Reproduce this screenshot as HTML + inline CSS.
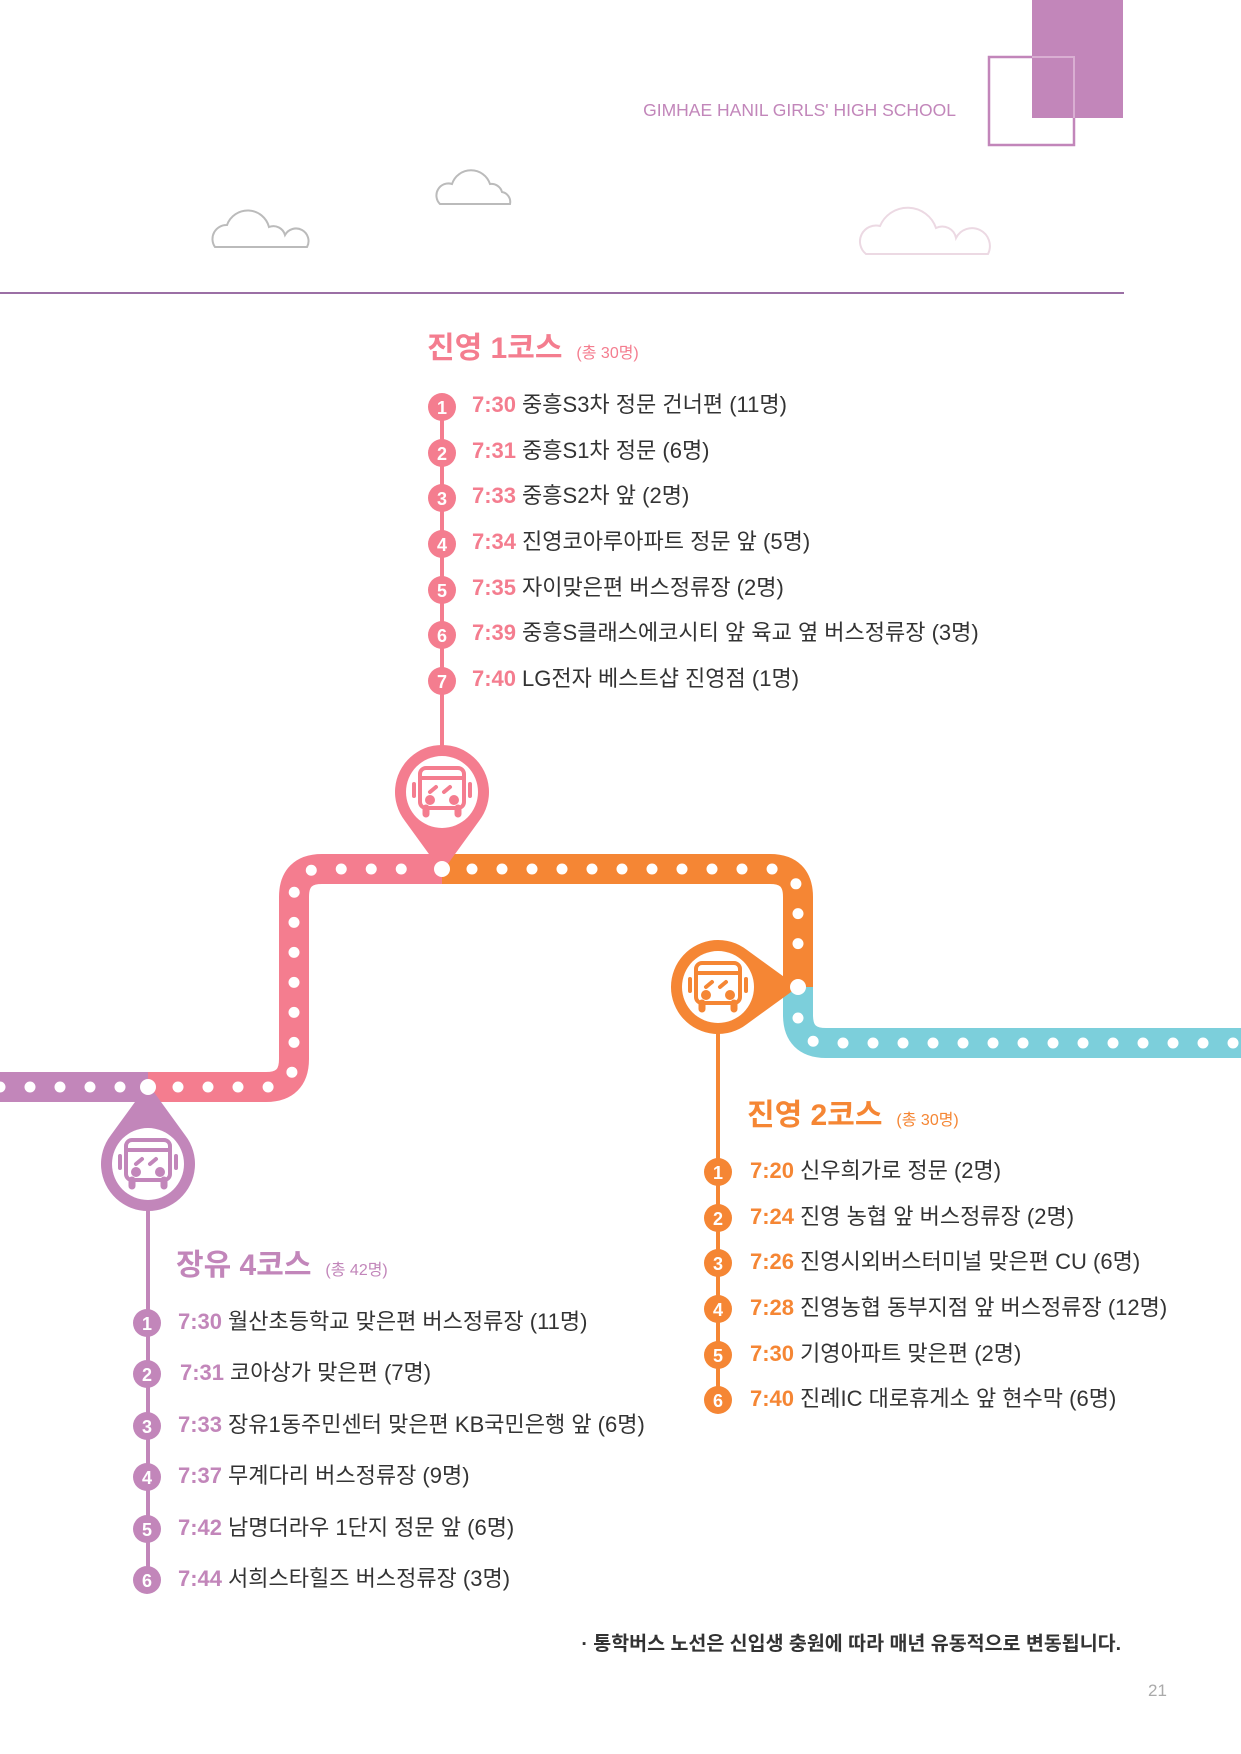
<!DOCTYPE html>
<html><head><meta charset="utf-8"><style>
body{margin:0;background:#fff;}
#p{position:relative;width:1241px;height:1754px;overflow:hidden;font-family:"Liberation Sans","Noto Sans CJK KR",sans-serif;}
.t{position:absolute;white-space:nowrap;line-height:1;}
.s{font-size:22px;color:#333;transform:translateY(-50%);}
.s b{font-weight:bold;margin-right:6px;}
.h{font-size:30px;font-weight:bold;}
.h small{font-size:16px;font-weight:normal;margin-left:14px;}
</style></head><body><div id="p">
<svg width="1241" height="1754" style="position:absolute;left:0;top:0">
<defs>
<g id="bus" fill="none" stroke-width="4" stroke-linecap="round">
<rect x="-22" y="-24" width="44" height="40" rx="6"/>
<line x1="-22" y1="-14" x2="22" y2="-14"/>
<path d="M-28,-8 v12 M28,-8 v12"/>
<path d="M-12,0 l6,-5 M2,0 l6,-5"/>
<circle cx="-12" cy="8" r="3" fill="currentColor"/><circle cx="12" cy="8" r="3" fill="currentColor"/>
<path d="M-16,16 v6 M16,16 v6" stroke-width="7"/>
</g>
<path id="drop" d="M-37.2,28.7 A47,47 0 1,1 37.2,28.7 L0,80 Z"/>
</defs>
<rect x="1032" y="0" width="91" height="118" fill="#c286ba"/>
<rect x="989" y="57" width="85" height="88" fill="none" stroke="#c286ba" stroke-width="2.5"/>
<path d="M1032,57 H1074 V118" fill="none" stroke="#d9aed2" stroke-width="2"/>
<line x1="0" y1="293" x2="1124" y2="293" stroke="#9b6fa5" stroke-width="2"/>
<g fill="none" stroke-width="2">
<path d="M215,247 a14,14 0 0,1 12,-22 a22,22 0 0,1 42,2 a12,12 0 0,1 16,8 a10,10 0 0,1 22,12 Z" stroke="#bbb"/>
<path d="M440,204 a12,12 0 0,1 12,-20 a20,20 0 0,1 38,0 a11,11 0 0,1 12,8 a10,10 0 0,1 8,12 Z" stroke="#bbb"/>
<path d="M866,254 a16,16 0 0,1 14,-28 a30,30 0 0,1 56,2 a14,14 0 0,1 20,10 a12,12 0 0,1 32,16 Z" stroke="#ecd9e3"/>
</g>
<g fill="none" stroke-width="30">
<path d="M0,1087 H148" stroke="#c286ba"/>
<path d="M148,1087 H266 Q294,1087 294,1059 V897 Q294,869 322,869 H442" stroke="#f47d8f"/>
<path d="M442,869 H770 Q798,869 798,897 V987" stroke="#f58634"/>
<path d="M798,987 V1015 Q798,1043 826,1043 H1241" stroke="#7ccfdb"/>
</g>
<g fill="none" stroke="#fff" stroke-width="11" stroke-linecap="round" stroke-dasharray="0 30">
<path d="M0,1087 H148"/>
<path d="M178,1087 H266 Q294,1087 294,1059 V897 Q294,869 322,869 H412"/>
<path d="M472,869 H770 Q798,869 798,897 V960"/>
<path d="M798,1018 Q798,1043 826,1043 H1241"/>
</g>
<line x1="442" y1="407" x2="442" y2="750" stroke="#f47d8f" stroke-width="4"/>
<line x1="718" y1="1030" x2="718" y2="1400" stroke="#f58634" stroke-width="4"/>
<line x1="148" y1="1200" x2="148" y2="1580" stroke="#c286ba" stroke-width="4"/>
<g transform="translate(442,792)" fill="#f47d8f"><use href="#drop"/><circle r="36" fill="#fff"/><g stroke="#f47d8f" color="#f47d8f"><use href="#bus"/></g></g>
<g transform="translate(718,987) rotate(-90)" fill="#f58634"><use href="#drop"/></g>
<g transform="translate(718,987)"><circle r="36" fill="#fff"/><g stroke="#f58634" color="#f58634"><use href="#bus"/></g></g>
<g transform="translate(148,1164) rotate(180)" fill="#c286ba"><use href="#drop"/></g>
<g transform="translate(148,1164)"><circle r="36" fill="#fff"/><g stroke="#c286ba" color="#c286ba"><use href="#bus"/></g></g>
<circle cx="442" cy="869" r="8" fill="#fff"/><circle cx="798" cy="987" r="8" fill="#fff"/><circle cx="148" cy="1087" r="8" fill="#fff"/>
<g font-family="Liberation Sans,sans-serif" font-weight="bold" font-size="18" fill="#fff" text-anchor="middle">
<g fill="#f47d8f"><circle cx="442" cy="407" r="14"/><circle cx="442" cy="453" r="14"/><circle cx="442" cy="498" r="14"/><circle cx="442" cy="544" r="14"/><circle cx="442" cy="590" r="14"/><circle cx="442" cy="635" r="14"/><circle cx="442" cy="681" r="14"/></g>
<text x="442" y="414">1</text><text x="442" y="460">2</text><text x="442" y="505">3</text><text x="442" y="551">4</text><text x="442" y="597">5</text><text x="442" y="642">6</text><text x="442" y="688">7</text>
<g fill="#f58634"><circle cx="718" cy="1172" r="14"/><circle cx="718" cy="1218" r="14"/><circle cx="718" cy="1263" r="14"/><circle cx="718" cy="1309" r="14"/><circle cx="718" cy="1355" r="14"/><circle cx="718" cy="1400" r="14"/></g>
<text x="718" y="1179">1</text><text x="718" y="1225">2</text><text x="718" y="1270">3</text><text x="718" y="1316">4</text><text x="718" y="1362">5</text><text x="718" y="1407">6</text>
<g fill="#c286ba"><circle cx="147" cy="1323" r="14"/><circle cx="147" cy="1374" r="14"/><circle cx="147" cy="1426" r="14"/><circle cx="147" cy="1477" r="14"/><circle cx="147" cy="1529" r="14"/><circle cx="147" cy="1580" r="14"/></g>
<text x="147" y="1330">1</text><text x="147" y="1381">2</text><text x="147" y="1433">3</text><text x="147" y="1484">4</text><text x="147" y="1536">5</text><text x="147" y="1587">6</text>
</g>
</svg>
<div class="t" style="right:285px;top:102px;font-size:17.5px;color:#c286ba">GIMHAE HANIL GIRLS' HIGH SCHOOL</div>

<div class="t h" style="left:427px;top:334px;color:#f47d8f">진영 1코스<small>(총 30명)</small></div>
<div class="t s" style="left:472px;top:405px"><b style="color:#f47d8f">7:30</b>중흥S3차 정문 건너편 (11명)</div>
<div class="t s" style="left:472px;top:451px"><b style="color:#f47d8f">7:31</b>중흥S1차 정문 (6명)</div>
<div class="t s" style="left:472px;top:496px"><b style="color:#f47d8f">7:33</b>중흥S2차 앞 (2명)</div>
<div class="t s" style="left:472px;top:542px"><b style="color:#f47d8f">7:34</b>진영코아루아파트 정문 앞 (5명)</div>
<div class="t s" style="left:472px;top:588px"><b style="color:#f47d8f">7:35</b>자이맞은편 버스정류장 (2명)</div>
<div class="t s" style="left:472px;top:633px"><b style="color:#f47d8f">7:39</b>중흥S클래스에코시티 앞 육교 옆 버스정류장 (3명)</div>
<div class="t s" style="left:472px;top:679px"><b style="color:#f47d8f">7:40</b>LG전자 베스트샵 진영점 (1명)</div>

<div class="t h" style="left:747px;top:1101px;color:#f58634">진영 2코스<small>(총 30명)</small></div>
<div class="t s" style="left:750px;top:1171px"><b style="color:#f58634">7:20</b>신우희가로 정문 (2명)</div>
<div class="t s" style="left:750px;top:1217px"><b style="color:#f58634">7:24</b>진영 농협 앞 버스정류장 (2명)</div>
<div class="t s" style="left:750px;top:1262px"><b style="color:#f58634">7:26</b>진영시외버스터미널 맞은편 CU (6명)</div>
<div class="t s" style="left:750px;top:1308px"><b style="color:#f58634">7:28</b>진영농협 동부지점 앞 버스정류장 (12명)</div>
<div class="t s" style="left:750px;top:1354px"><b style="color:#f58634">7:30</b>기영아파트 맞은편 (2명)</div>
<div class="t s" style="left:750px;top:1399px"><b style="color:#f58634">7:40</b>진례IC 대로휴게소 앞 현수막 (6명)</div>

<div class="t h" style="left:176px;top:1251px;color:#c286ba">장유 4코스<small>(총 42명)</small></div>
<div class="t s" style="left:178px;top:1322px"><b style="color:#c286ba">7:30</b>월산초등학교 맞은편 버스정류장 (11명)</div>
<div class="t s" style="left:180px;top:1373px"><b style="color:#c286ba">7:31</b>코아상가 맞은편 (7명)</div>
<div class="t s" style="left:178px;top:1425px"><b style="color:#c286ba">7:33</b>장유1동주민센터 맞은편 KB국민은행 앞 (6명)</div>
<div class="t s" style="left:178px;top:1476px"><b style="color:#c286ba">7:37</b>무계다리 버스정류장 (9명)</div>
<div class="t s" style="left:178px;top:1528px"><b style="color:#c286ba">7:42</b>남명더라우 1단지 정문 앞 (6명)</div>
<div class="t s" style="left:178px;top:1579px"><b style="color:#c286ba">7:44</b>서희스타힐즈 버스정류장 (3명)</div>

<div class="t" style="right:120px;top:1635px;font-size:19.5px;font-weight:bold;color:#333">· 통학버스 노선은 신입생 충원에 따라 매년 유동적으로 변동됩니다.</div>
<div class="t" style="left:1148px;top:1682px;font-size:17px;color:#aaa">21</div>
</div></body></html>
